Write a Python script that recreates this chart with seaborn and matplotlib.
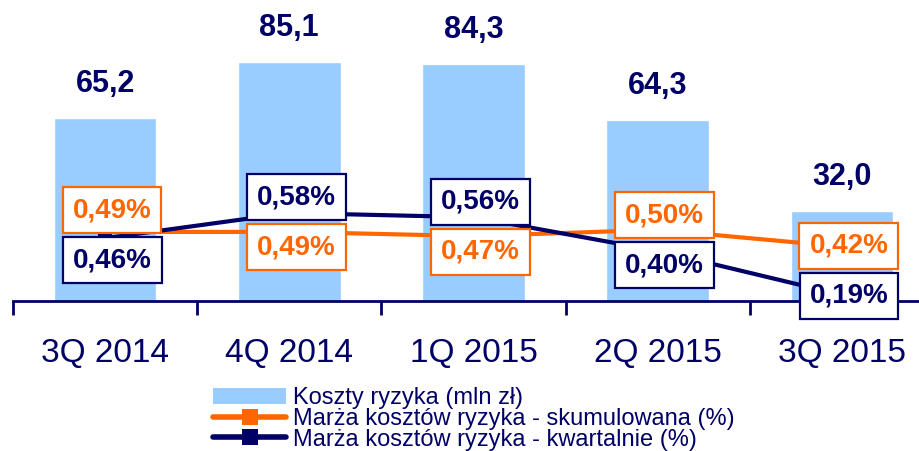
import matplotlib
matplotlib.use("Agg")
import matplotlib.pyplot as plt
import seaborn as sns
from matplotlib.patches import Patch
from matplotlib.lines import Line2D

quarters = ["3Q 2014", "4Q 2014", "1Q 2015", "2Q 2015", "3Q 2015"]
koszty = [65.2, 85.1, 84.3, 64.3, 32.0]
marza_skum = [0.49, 0.49, 0.47, 0.50, 0.42]
marza_kw = [0.46, 0.58, 0.56, 0.40, 0.19]

BLUE = "#99CCFF"
ORANGE = "#FF6600"
NAVY = "#000066"

sns.set_style("white")
plt.rcParams["font.family"] = ["Liberation Sans", "DejaVu Sans"]

fig = plt.figure(figsize=(9.19, 4.51), dpi=100)
ax = fig.add_axes([13 / 919, 150 / 451, 921 / 919, 301 / 451])

sns.barplot(x=quarters, y=koszty, color=BLUE, saturation=1, width=0.556, ax=ax)
ax.set_ylim(0, 107)
ax.set_xlim(-0.5, 4.5)
ax.set_ylabel("")
ax.set_xlabel("")
ax.set_yticks([])
for s in ["top", "right", "left"]:
    ax.spines[s].set_visible(False)
ax.spines["bottom"].set_color(NAVY)
ax.spines["bottom"].set_linewidth(2)

# value labels above bars
for i, v in enumerate(koszty):
    ax.annotate(f"{v:.1f}".replace(".", ","), xy=(i, v), xytext=(0, 19),
                textcoords="offset pixels", ha="center", va="bottom",
                fontsize=22, fontweight="bold", color=NAVY)

# ticks at category borders, labels at centres
ax.set_xticks([i - 0.5 for i in range(6)])
ax.set_xticklabels([""] * 6)
ax.tick_params(axis="x", which="major", bottom=True, length=10, width=2,
               color=NAVY, direction="out")
ax.set_xticks(range(5), minor=True)
ax.set_xticklabels(quarters, minor=True)
ax.tick_params(axis="x", which="minor", bottom=True, length=0, pad=27,
               labelsize=24, labelcolor=NAVY)

ax2 = ax.twinx()
x = list(range(5))
sns.lineplot(x=x, y=marza_skum, color=ORANGE, linewidth=3, marker="s", markersize=10,
             markeredgewidth=0, ax=ax2)
sns.lineplot(x=x, y=marza_kw, color=NAVY, linewidth=3, marker="s", markersize=10,
             markeredgewidth=0, ax=ax2)
ax2.set_ylim(0.161, 1.594)
ax2.set_xlim(-0.5, 4.5)
ax2.set_yticks([])
ax2.set_ylabel("")
for s in ax2.spines.values():
    s.set_visible(False)

# stacked percentage boxes, centred between the two points
for i in x:
    mid = (marza_skum[i] + marza_kw[i]) / 2
    pairs = [(marza_skum[i], ORANGE), (marza_kw[i], NAVY)]
    top = max(pairs, key=lambda p: p[0])
    for val, col in pairs:
        dy = 25 if (val, col) == top else -25
        ax2.annotate(f"{val:.2f}%".replace(".", ","), xy=(i, mid), xytext=(7, dy),
                     textcoords="offset pixels", ha="center", va="center",
                     fontsize=20, fontweight="bold", color=col,
                     bbox=dict(boxstyle="square,pad=0.36", fc="white", ec=col, lw=1.6))

handles = [
    Patch(facecolor=BLUE, edgecolor="none"),
    Line2D([], [], color=ORANGE, lw=4, marker="s", markersize=11, markeredgewidth=0),
    Line2D([], [], color=NAVY, lw=4, marker="s", markersize=11, markeredgewidth=0),
]
labels = ["Koszty ryzyka (mln zł)",
          "Marża kosztów ryzyka - skumulowana (%)",
          "Marża kosztów ryzyka - kwartalnie (%)"]
fig.legend(handles, labels, loc="upper left", bbox_to_anchor=(213 / 919, 1 - 387 / 451),
           frameon=False, fontsize=17, labelcolor=NAVY, labelspacing=-0.05,
           handlelength=3.1, handleheight=0.68, handletextpad=0.3,
           borderpad=0, borderaxespad=0)

fig.savefig("out.png", dpi=100)
